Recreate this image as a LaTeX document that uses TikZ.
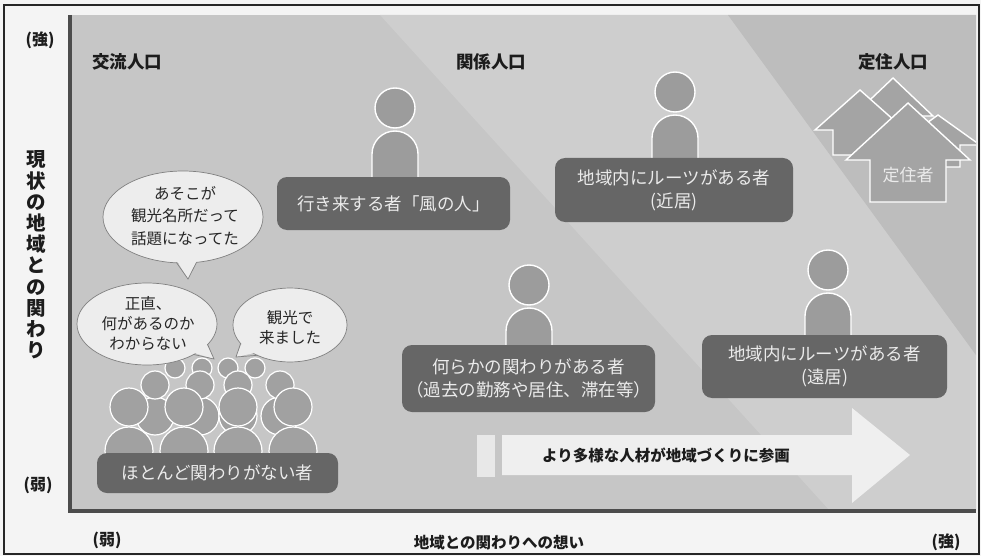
\documentclass[tikz,border=0pt]{standalone}
\usepackage{fontspec}
\newfontfamily\jp{Noto Sans CJK JP}
\definecolor{paper}{HTML}{F4F4F4}
\definecolor{panel}{HTML}{C6C6C6}
\definecolor{panellight}{HTML}{CECECE}
\definecolor{paneldark}{HTML}{BDBDBD}
\definecolor{axis}{HTML}{4C4C4C}
\definecolor{figure}{HTML}{9C9C9C}
\definecolor{boxgray}{HTML}{666666}
\definecolor{bubble}{HTML}{EDEDED}
\definecolor{ink}{HTML}{1C1C1C}
\definecolor{arrowfill}{HTML}{EFEFEF}
\tikzset{
  lbox/.style={fill=boxgray, rounded corners=10pt, text=white!92!black, align=center,
    font=\jp\fontsize{17.5}{23}\selectfont, inner sep=0pt},
  hdr/.style={font=\jp\bfseries\fontsize{17.5}{20}\selectfont, text=ink, inner sep=0pt},
  axlab/.style={font=\jp\bfseries\fontsize{16}{18}\selectfont, text=ink, inner sep=0pt},
  bubtext/.style={font=\jp\fontsize{15.5}{21}\selectfont, text=black!85, align=center, inner sep=0pt},
  fig/.style={fill=figure, draw=white, line width=1.4pt},
  crowd/.style={fill=figure!95!white, draw=white, line width=1.2pt},
  bub/.style={fill=bubble, draw=black!50, line width=0.7pt},
  housestyle/.style={fill=figure!92!white, draw=white, line width=1.4pt, line join=miter},
}
% person icon: head centre (#1,#2); body hidden below by its label box
\newcommand\personicon[2]{%
  \draw[fig] (#1,#2) circle[radius=20pt];
  \draw[fig] (#1-23,#2+95) -- (#1-23,#2+46) arc[start angle=180,end angle=0,radius=23pt] -- (#1+23,#2+95);
}
% house outline: apex (#1,#2), eave half width #3, roof height #4, wall half width #5, wall height #6
\newcommand\houseshape[6]{%
  \draw[housestyle] (#1-#3,#2+#4) -- (#1,#2) -- (#1+#3,#2+#4) -- (#1+#5,#2+#4)
    -- (#1+#5,#2+#4+#6) -- (#1-#5,#2+#4+#6) -- (#1-#5,#2+#4) -- cycle;
}
\begin{document}
\begin{tikzpicture}[x=1pt,y=-1pt]
\useasboundingbox (0,0) rectangle (981,556);
\fill[paper] (0,0) rectangle (981,556);
\draw[black!85, line width=1.3pt] (4,5) rectangle (979,554);

% chart panel with diagonal shading
\fill[panel] (70,15) rectangle (976,511);
\fill[panellight] (380,15) -- (728,15) -- (976,355) -- (976,511) -- (830,511) -- cycle;
\fill[paneldark] (728,15) -- (976,15) -- (976,355) -- cycle;
\draw[axis, line width=4pt, line join=miter] (70,15) -- (70,511) -- (976,511);

% axis labels
\node[axlab] (ystrong) at (40,40) {(強)};
\node[axlab] (yweak) at (38,485) {(弱)};
\node[font=\jp\bfseries\fontsize{19.5}{21.2}\selectfont, text=ink, align=center, inner sep=0pt]
  (ytitle) at (36,255) {現\\状\\の\\地\\域\\と\\の\\関\\わ\\り};
\node[axlab] (xweak) at (107,540) {(弱)};
\node[font=\jp\bfseries\fontsize{15.5}{18}\selectfont, text=ink, inner sep=0pt] (xtitle) at (499,543) {地域との関わりへの想い};
\node[axlab] (xstrong) at (946,542) {(強)};

% column headings
\node[hdr] (hexchange) at (127,62) {交流人口};
\node[hdr] (hrelation) at (491,62) {関係人口};
\node[hdr] (hsettled) at (893,62) {定住人口};

% houses of settled residents
\begin{scope}
\clip (70,15) rectangle (976,511);
\houseshape{893}{78}{40}{38}{24}{40}
\houseshape{860}{90}{45}{40}{27}{25}
\houseshape{938}{115}{42}{30}{22}{22}
\houseshape{908}{103}{62}{57}{38}{42}
\end{scope}
\node[font=\jp\fontsize{17}{20}\selectfont, text=white!92!black, inner sep=0pt] (settler) at (908,175) {定住者};

% people of the relation population
\personicon{395}{108}
\node[lbox, minimum width=233pt, minimum height=53pt] (wind) at (393.5,203.5) {行き来する者「風の人」};
\personicon{675}{92}
\node[lbox, minimum width=238pt, minimum height=64pt] (near) at (674,190) {地域内にルーツがある者\\(近居)};
\personicon{529}{285}
\node[lbox, minimum width=253pt, minimum height=67pt] (some) at (528.5,378.5) {何らかの関わりがある者\\（過去の勤務や居住、滞在等）};
\personicon{828}{270}
\node[lbox, minimum width=245pt, minimum height=63pt] (far) at (824.5,366.5) {地域内にルーツがある者\\(遠居)};

% crowd of visitors
\foreach \x in {175,202,228,255} \draw[crowd] (\x,368) circle[radius=10pt];
\foreach \x in {155,200,238,280} \draw[crowd] (\x,416) circle[radius=19pt];
\foreach \x in {155,200,238,280} \draw[crowd] (\x,385) circle[radius=14pt];
\foreach \x in {129,184,238,293} \draw[crowd] (\x,451) circle[radius=24pt];
\foreach \x in {129,184,238,293} \draw[crowd] (\x,407) circle[radius=19pt];
\node[lbox, minimum width=241pt, minimum height=40pt] (few) at (217.5,473) {ほとんど関わりがない者};

% speech bubbles
\draw[bub] (183,217) ellipse[x radius=80pt, y radius=46pt];
\fill[bubble] (174,256) -- (188,279) -- (199,256) -- cycle;
\draw[black!50, line width=0.7pt] (176.5,262.6) -- (188,279) -- (196.5,262.4);
\node[bubtext, font=\jp\fontsize{15.5}{22.5}\selectfont] (famous) at (185,216) {あそこが\\観光名所だって\\話題になってた};

\draw[bub] (147,324) ellipse[x radius=70pt, y radius=41pt];
\fill[bubble] (205,341) -- (214,359) -- (191,352) -- cycle;
\draw[black!50, line width=0.7pt] (207.6,344.5) -- (214,359) -- (193.8,354.5);
\node[bubtext, font=\jp\fontsize{15.5}{20}\selectfont] (unknown) at (148,323) {正直、\\何があるのか\\わからない};

\draw[bub] (290,325) ellipse[x radius=57pt, y radius=37pt];
\fill[bubble] (243,340) -- (236,357) -- (259,352) -- cycle;
\draw[black!50, line width=0.7pt] (240.6,343.5) -- (236,357) -- (257.3,355.3);
\node[bubtext, font=\jp\fontsize{15.5}{19.5}\selectfont] (sightsee) at (290,327.5) {観光で\\来ました};

% direction arrow
\fill[arrowfill!97!black] (477,435) rectangle (495,477);
\fill[arrowfill] (502,435) -- (852,435) -- (852,408) -- (910,455) -- (852,503) -- (852,475) -- (502,475) -- cycle;
\node[font=\jp\bfseries\fontsize{15.5}{18}\selectfont, text=ink, inner sep=0pt] (diverse) at (666,455) {より多様な人材が地域づくりに参画};
\end{tikzpicture}
\end{document}
